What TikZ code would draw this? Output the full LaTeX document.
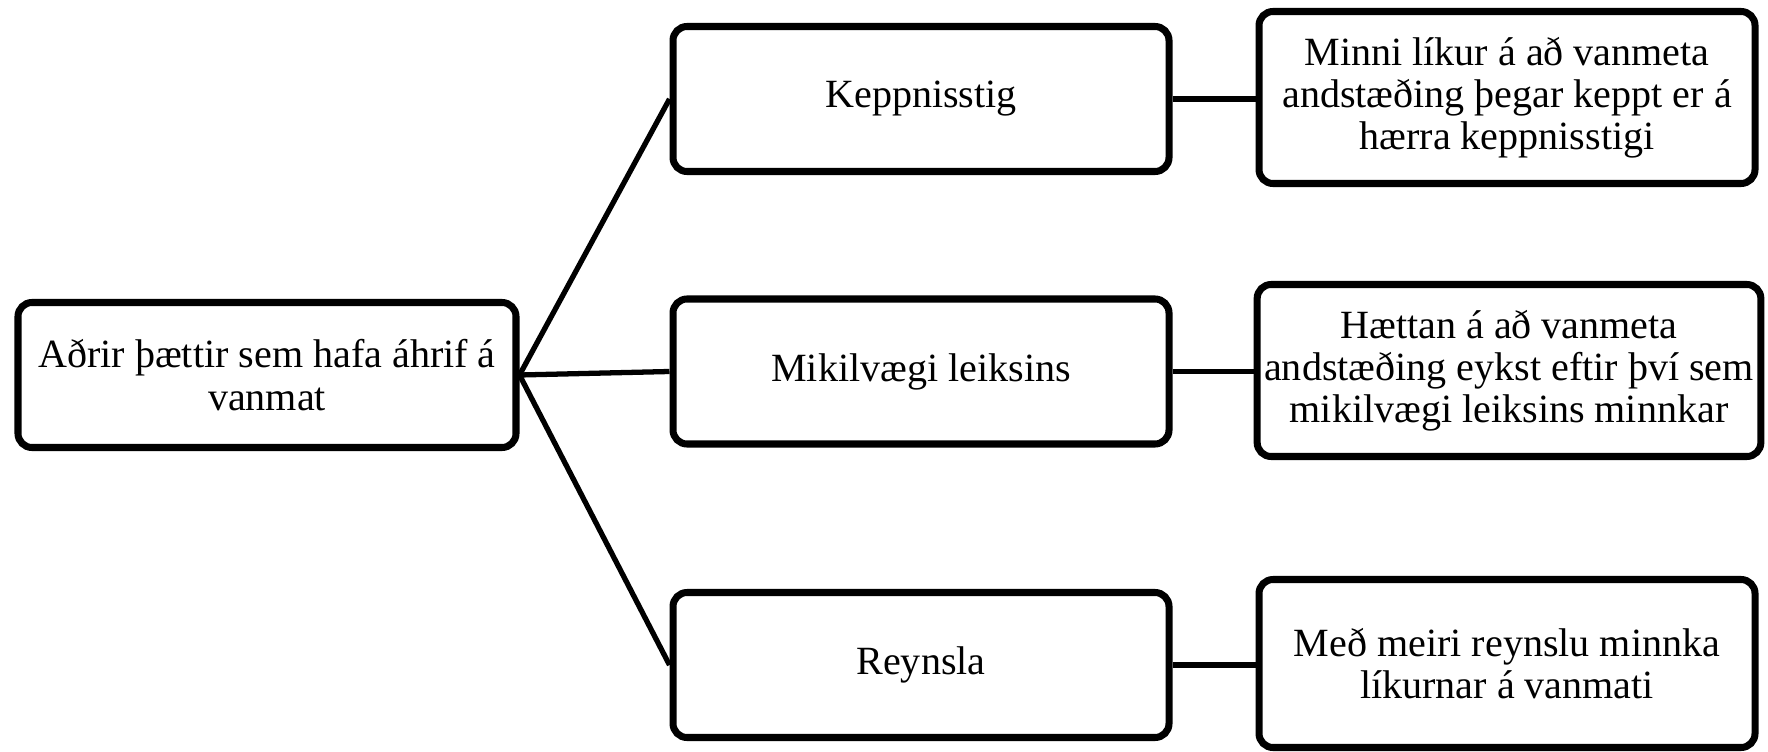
\documentclass[tikz,border=0pt]{standalone}
\usepackage{fontspec}
\setmainfont{Liberation Serif}
\usetikzlibrary{positioning}

\begin{document}
\begin{tikzpicture}[box/.style={draw, line width=2pt, rounded corners=0.14cm, align=center, inner sep=2pt, minimum width=4.96cm, minimum height=1.45cm, font=\fontsize{11.4}{12}\selectfont},
  tall/.style={box, minimum height=1.72cm},
  link/.style={line width=1.5pt}]
\useasboundingbox (0,0) rectangle (17.68,-7.51);
% left: main factor
\node[box, minimum width=4.98cm] (vanmat) at (2.67,-3.75) {Aðrir þættir sem hafa áhrif á\\vanmat};
% middle column
\node[box] (keppni) at (9.21,-0.99) {Keppnisstig};
\node[box] (mikil) at (9.21,-3.715) {Mikilvægi leiksins};
\node[box] (reynsla) at (9.21,-6.65) {Reynsla};
% right column
\node[tall] (keppniR) at (15.07,-0.975) {Minni líkur á að vanmeta\\andstæðing þegar keppt er á\\hærra keppnisstigi};
\node[tall] (mikilR) at (15.09,-3.705) {Hættan á að vanmeta\\andstæðing eykst eftir því sem\\mikilvægi leiksins minnkar};
\node[tall, minimum height=1.68cm] (reynslaR) at (15.07,-6.635) {Með meiri reynslu minnka\\líkurnar á vanmati};
\foreach \n in {keppni,mikil,reynsla}
  \draw[link] (vanmat.east) -- (\n.west);
\foreach \n in {keppni,mikil,reynsla}
  \draw[link] (\n.east) -- (\n.east -| \n R.west);
\end{tikzpicture}
\end{document}
